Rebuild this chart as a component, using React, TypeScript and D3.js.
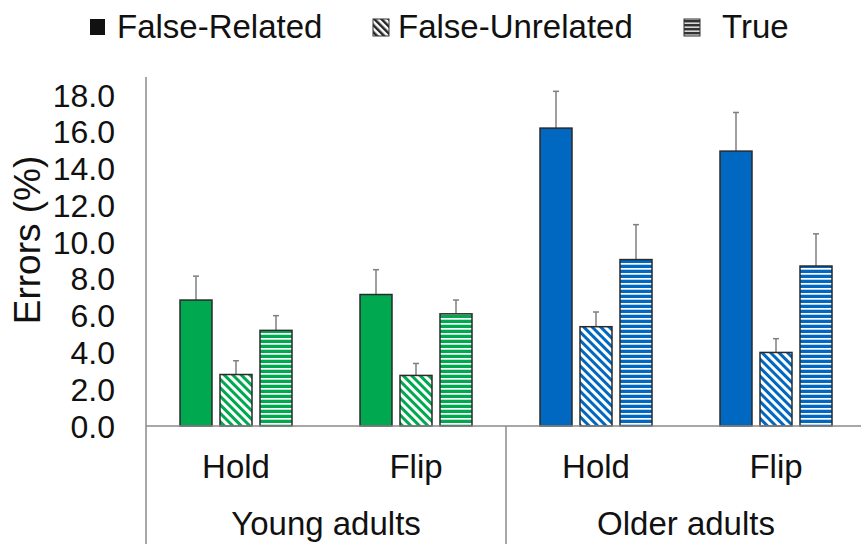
import React from "react";
import * as d3 from "d3";

// Conditions along the x axis, grouped by age group
const ageGroups = ["Young adults", "Older adults"];
const conditions = ["Hold", "Flip"];
const seriesNames = ["False-Related", "False-Unrelated", "True"];

// Mean error rate (%) per series, ordered Young-Hold, Young-Flip, Older-Hold, Older-Flip
const falseRelated = [6.85, 7.15, 16.2, 14.95];
const falseUnrelated = [2.8, 2.75, 5.4, 4.0];
const trueValues = [5.2, 6.1, 9.05, 8.7];

// Upper error bar lengths
const falseRelatedErr = [1.3, 1.35, 2.0, 2.1];
const falseUnrelatedErr = [0.75, 0.65, 0.8, 0.75];
const trueErr = [0.8, 0.75, 1.9, 1.75];

const yTicks = [0, 2, 4, 6, 8, 10, 12, 14, 16, 18];

const groupColors = ["#00a84f", "#0068c0"];

const W = 861;
const H = 544;
const FONT = "'Liberation Sans', Arial, sans-serif";

export default function App() {
  const left = 146;
  const baseY = 426;
  const slotWidth = 180;

  const categories = ageGroups.flatMap((g) => conditions.map((c) => `${g}|${c}`));
  const x = d3.scaleBand<string>().domain(categories).range([left, left + slotWidth * categories.length]).padding(0);
  const inner = d3
    .scaleBand<string>()
    .domain(seriesNames)
    .range([slotWidth / 2 - 60, slotWidth / 2 + 60])
    .paddingInner(0.2)
    .paddingOuter(0.1);
  const y = d3.scaleLinear().domain([0, 18]).range([baseY, 95]);

  const values = [falseRelated, falseUnrelated, trueValues];
  const errors = [falseRelatedErr, falseUnrelatedErr, trueErr];

  const fillFor = (s: number, g: number) => {
    if (s === 0) return groupColors[g];
    if (s === 1) return `url(#diag-${g})`;
    return `url(#horiz-${g})`;
  };

  const gridStroke = "#8a8a8a";

  return (
    <svg width={W} height={H} style={{ display: "block", position: "absolute", left: 0, top: 0 }}>
      <defs>
        {groupColors.map((c, g) => (
          <React.Fragment key={g}>
            <pattern id={`diag-${g}`} patternUnits="userSpaceOnUse" width={6} height={6} patternTransform="rotate(-45)">
              <rect width={6} height={6} fill="#fff" />
              <rect width={3} height={6} fill={c} />
            </pattern>
            <pattern id={`horiz-${g}`} patternUnits="userSpaceOnUse" width={5} height={5}>
              <rect width={5} height={5} fill={c} />
              <rect y={3} width={5} height={1.7} fill="#fff" />
            </pattern>
          </React.Fragment>
        ))}
        <pattern id="legend-diag" patternUnits="userSpaceOnUse" width={5} height={5} patternTransform="rotate(-45)">
          <rect width={5} height={5} fill="#fff" />
          <rect width={2.5} height={5} fill="#222" />
        </pattern>
        <pattern id="legend-horiz" patternUnits="userSpaceOnUse" width={4} height={4}>
          <rect width={4} height={4} fill="#333" />
          <rect y={2.5} width={4} height={1.3} fill="#fff" />
        </pattern>
      </defs>
      <rect width={W} height={H} fill="#fff" />

      {/* Legend */}
      <g fontFamily={FONT} fontSize={33} fill="#111">
        <rect x={90} y={19} width={15} height={16} fill="#111" />
        <text x={117} y={38}>False-Related</text>
        <rect x={373} y={19} width={16} height={17} fill="url(#legend-diag)" stroke="#333" strokeWidth={1} />
        <text x={398} y={38}>False-Unrelated</text>
        <rect x={684} y={19} width={16} height={17} fill="url(#legend-horiz)" stroke="#333" strokeWidth={1} />
        <text x={722} y={38}>True</text>
      </g>

      {/* Y axis */}
      <line x1={left} x2={left} y1={77} y2={H} stroke={gridStroke} strokeWidth={1.5} />
      <g fontFamily={FONT} fontSize={32} fill="#111" textAnchor="end">
        {yTicks.map((t) => (
          <text key={t} x={115} y={y(t)} dy="0.36em">
            {t.toFixed(1)}
          </text>
        ))}
      </g>
      <text
        transform={`translate(40, ${240}) rotate(-90)`}
        textAnchor="middle"
        fontFamily={FONT}
        fontSize={37}
        fill="#111"
      >
        Errors (%)
      </text>

      {/* Bars */}
      {categories.map((cat, ci) => {
        const g = Math.floor(ci / conditions.length);
        const x0 = x(cat)!;
        return (
          <g key={cat}>
            {seriesNames.map((s, si) => {
              const v = values[si][ci];
              const e = errors[si][ci];
              const bx = x0 + inner(s)!;
              const bw = inner.bandwidth();
              const cx = bx + bw / 2;
              return (
                <g key={s}>
                  <line x1={cx} x2={cx} y1={y(v)} y2={y(v + e)} stroke="#7f7f7f" strokeWidth={1.5} />
                  <line x1={cx - 3} x2={cx + 3} y1={y(v + e)} y2={y(v + e)} stroke="#7f7f7f" strokeWidth={1.5} />
                  <rect
                    x={bx}
                    y={y(v)}
                    width={bw}
                    height={baseY - y(v)}
                    fill={fillFor(si, g)}
                    stroke="#2a2a2a"
                    strokeWidth={1.5}
                  />
                </g>
              );
            })}
          </g>
        );
      })}

      {/* X axis and group separators */}
      <line x1={left} x2={W} y1={baseY} y2={baseY} stroke={gridStroke} strokeWidth={1.5} />
      {ageGroups.map((ag) => {
        const start = x(`${ag}|${conditions[0]}`)!;
        const end = x(`${ag}|${conditions[conditions.length - 1]}`)! + x.bandwidth();
        return (
          <g key={ag}>
            <line x1={end} x2={end} y1={baseY} y2={H} stroke={gridStroke} strokeWidth={1.5} />
            <text
              x={(start + end) / 2}
              y={535}
              textAnchor="middle"
              fontFamily={FONT}
              fontSize={33}
              fill="#111"
            >
              {ag}
            </text>
          </g>
        );
      })}
      <g fontFamily={FONT} fontSize={33} fill="#111" textAnchor="middle">
        {categories.map((cat) => (
          <text key={cat} x={x(cat)! + x.bandwidth() / 2} y={478}>
            {cat.split("|")[1]}
          </text>
        ))}
      </g>
    </svg>
  );
}
